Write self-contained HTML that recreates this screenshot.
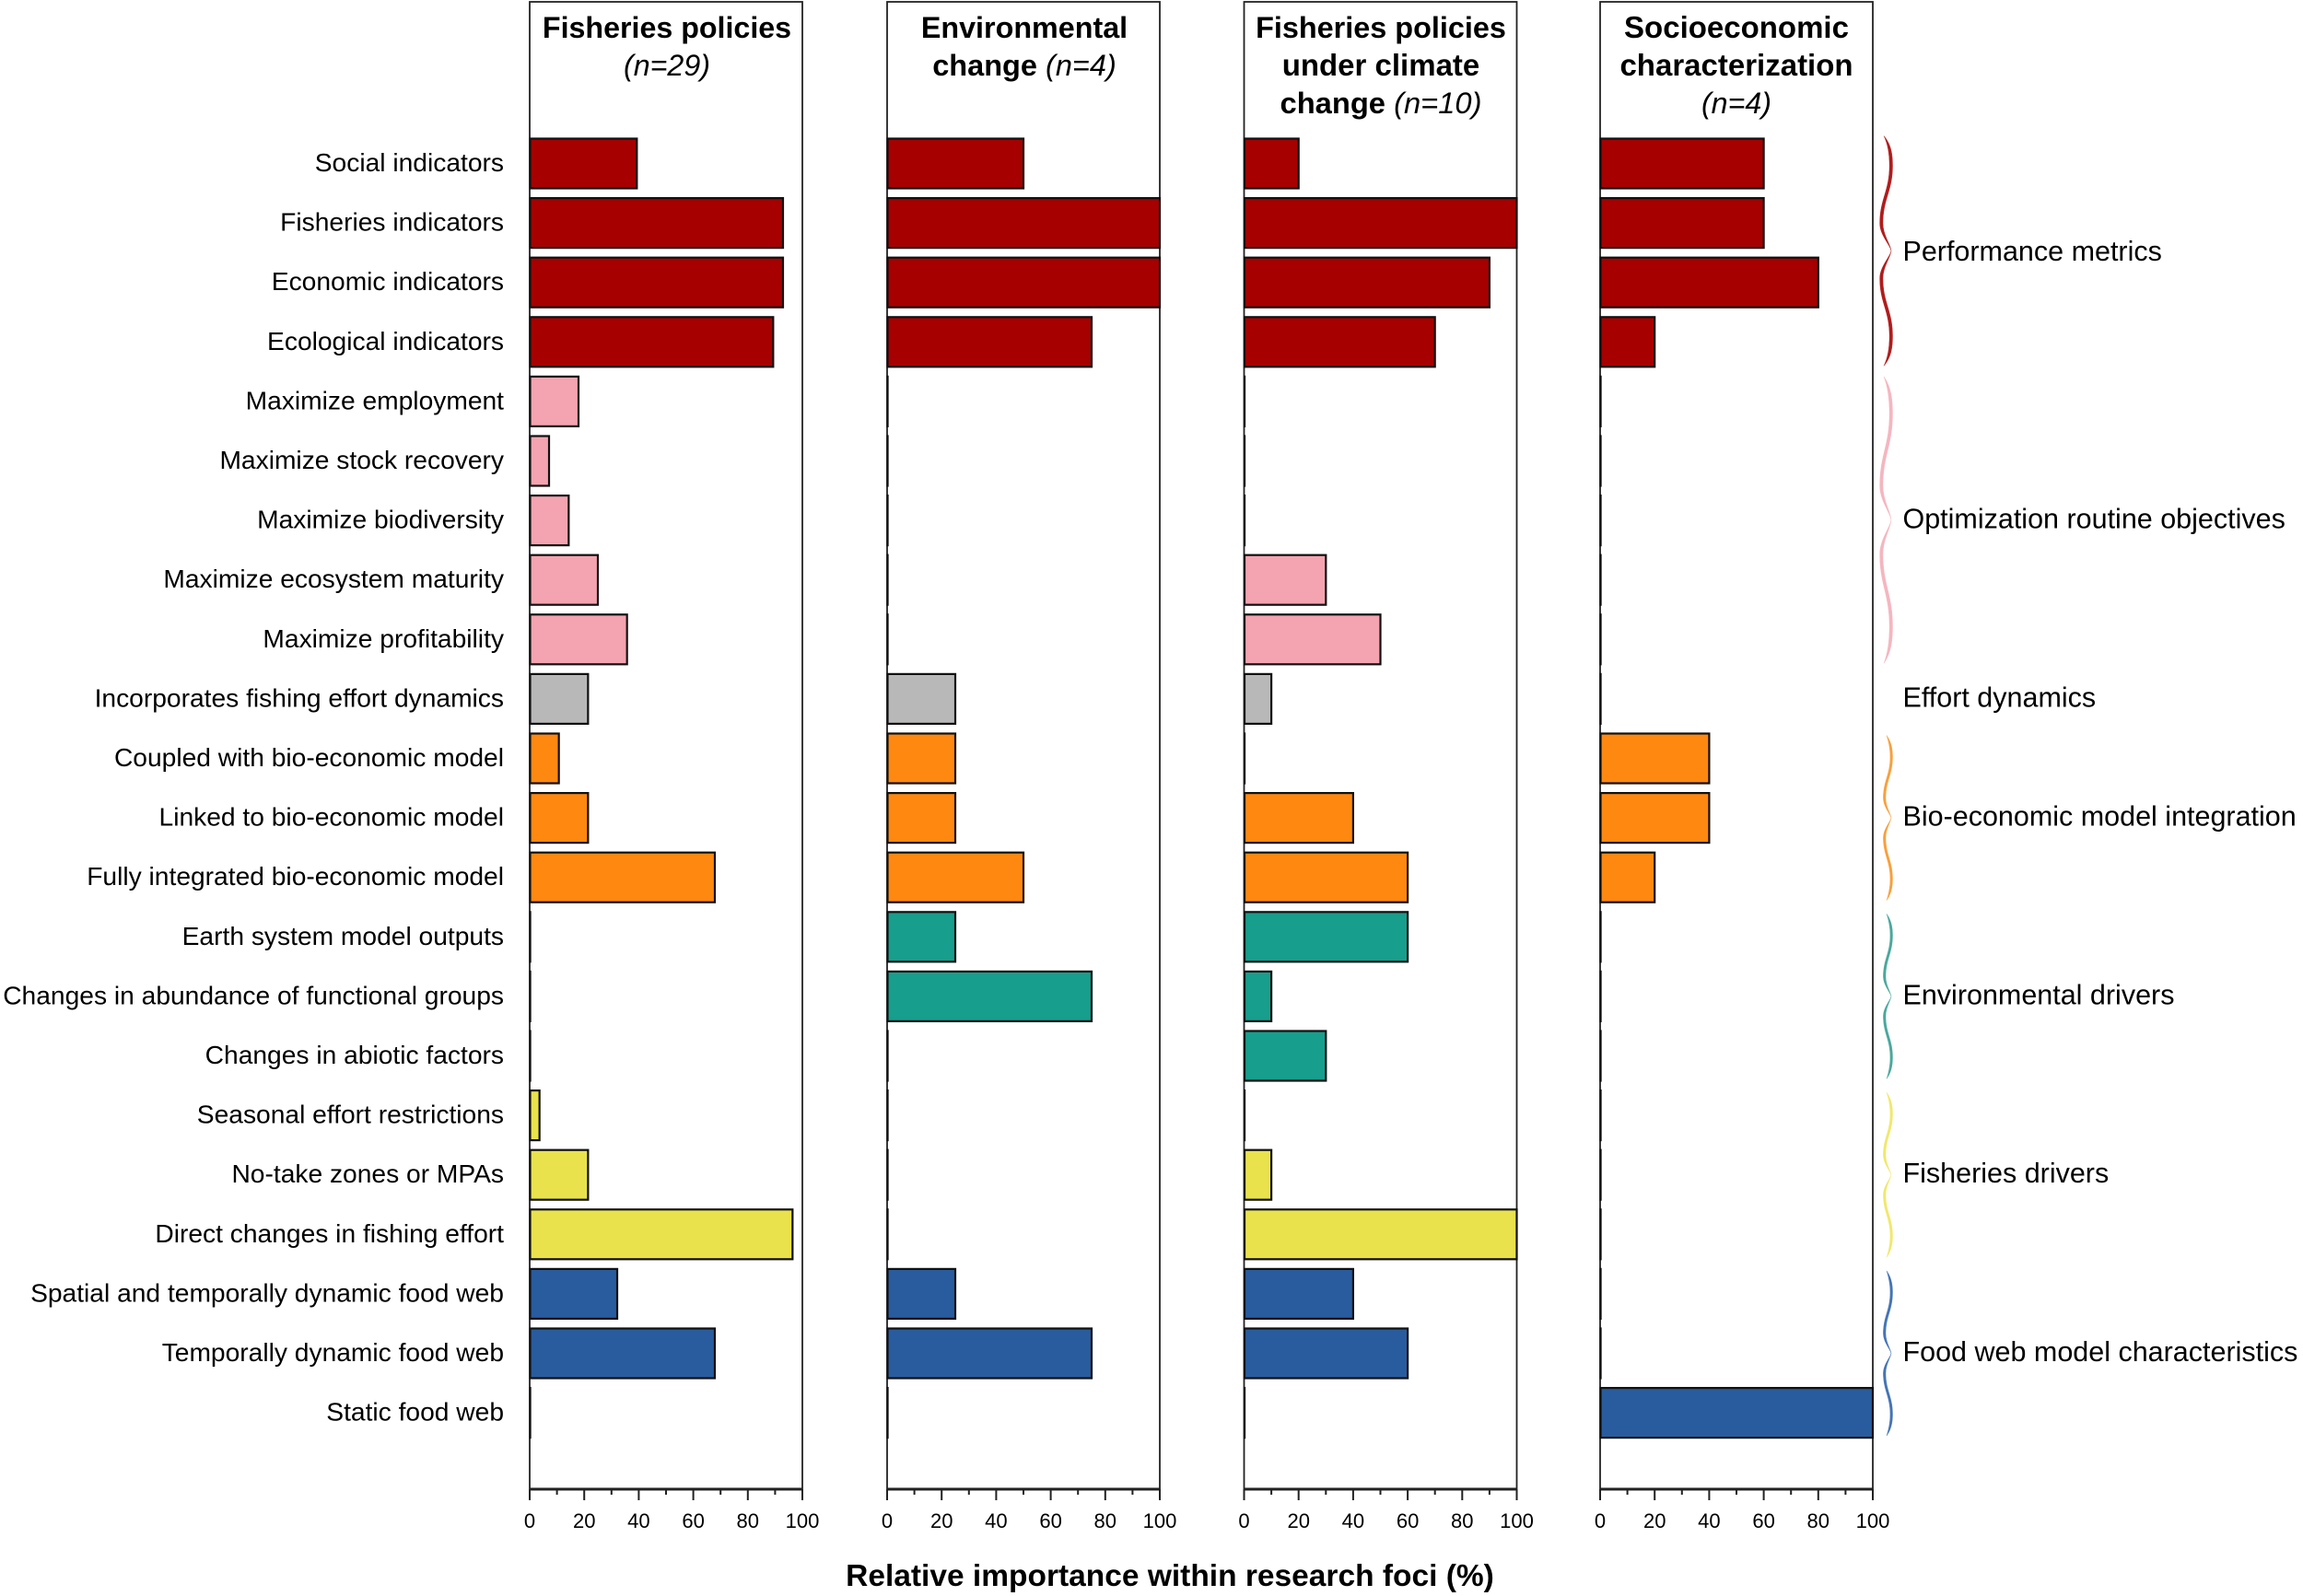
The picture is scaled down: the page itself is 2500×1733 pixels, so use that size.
<!DOCTYPE html>
<html lang="en">
<head>
<meta charset="utf-8">
<title>Relative importance within research foci</title>
<style>
html,body{margin:0;padding:0;background:#fff}
svg{display:block}
text{font-family:"Liberation Sans",sans-serif;fill:#000}
.title{font-size:32.2px;font-weight:bold;text-anchor:middle}
.title tspan.n{font-style:italic;font-weight:normal}
</style>
</head>
<body>
<svg id="chart" xmlns="http://www.w3.org/2000/svg" width="2500" height="1733" viewBox="0 0 2500 1733">
  <rect x="0" y="0" width="2500" height="1733" fill="#fff"/>
  <text class="title" x="724" y="41">Fisheries policies</text>
  <text class="title" x="724" y="82"><tspan class="n">(n=29)</tspan></text>
  <text class="title" x="1112" y="41" style="font-size:32.3px">Environmental</text>
  <text class="title" x="1112" y="82" style="font-size:32.5px">change <tspan class="n">(n=4)</tspan></text>
  <text class="title" x="1499" y="41" style="font-size:32.4px">Fisheries policies</text>
  <text class="title" x="1499" y="82" style="font-size:33px">under climate</text>
  <text class="title" x="1499" y="123" style="font-size:32.7px">change <tspan class="n">(n=10)</tspan></text>
  <text class="title" x="1885" y="41" style="font-size:33px">Socioeconomic</text>
  <text class="title" x="1885" y="82" style="font-size:33px">characterization</text>
  <text class="title" x="1885" y="123"><tspan class="n">(n=4)</tspan></text>
  <text x="1270" y="1722" text-anchor="middle" font-size="33.5" font-weight="bold">Relative importance within research foci (%)</text>
</svg>
<script>
const categories = ["Social indicators","Fisheries indicators","Economic indicators","Ecological indicators","Maximize employment","Maximize stock recovery","Maximize biodiversity","Maximize ecosystem maturity","Maximize profitability","Incorporates fishing effort dynamics","Coupled with bio-economic model","Linked to bio-economic model","Fully integrated bio-economic model","Earth system model outputs","Changes in abundance of functional groups","Changes in abiotic factors","Seasonal effort restrictions","No-take zones or MPAs","Direct changes in fishing effort","Spatial and temporally dynamic food web","Temporally dynamic food web","Static food web"];
const fisheriesPolicies = [39.3,92.9,92.9,89.3,17.9,7.1,14.3,25,35.7,21.4,10.7,21.4,67.9,0,0,0,3.6,21.4,96.4,32.1,67.9,0];
const environmentalChange = [50,100,100,75,0,0,0,0,0,25,25,25,50,25,75,0,0,0,0,25,75,0];
const policiesUnderClimate = [20,100,90,70,0,0,0,30,50,10,0,40,60,60,10,30,0,10,100,40,60,0];
const socioeconomic = [60,60,80,20,0,0,0,0,0,0,40,40,20,0,0,0,0,0,0,0,0,100];
const tickLabels = [0,20,40,60,80,100];
const minorTicks = [10,30,50,70,90];
const groupNames = ["Performance metrics","Optimization routine objectives","Effort dynamics","Bio-economic model integration","Environmental drivers","Fisheries drivers","Food web model characteristics"];
const groupFirstRow = [0,4,9,10,13,16,19];
const groupLastRow = [3,8,9,12,15,18,21];
const groupColors = ["#a60000","#f4a3b0","#b8b8b8","#ff8811","#179e8c","#e9e24c","#285c9e"];
const braceColors = ["#b01c1c","#f4b6c0","","#f8a03c","#4aa89c","#f0e86c","#4474b4"];

const NS = "http://www.w3.org/2000/svg";
const svg = document.getElementById("chart");
const panelLeft = [575, 963, 1350.5, 1737];
const panelSeries = [fisheriesPolicies, environmentalChange, policiesUnderClimate, socioeconomic];
const panelKeys = ["fisheries-policies","environmental-change","policies-under-climate","socioeconomic"];
const PW = 296, TOP = 2, BOTTOM = 1617, ROW0 = 177.5, PITCH = 64.6, BARH = 54, LABEL_R = 547;

function xScale(p, v){ return panelLeft[p] + v / 100 * PW; }
function yScale(i){ return ROW0 + i * PITCH; }
function make(tag, attrs){
  const el = document.createElementNS(NS, tag);
  for (const k in attrs) el.setAttribute(k, attrs[k]);
  svg.appendChild(el);
  return el;
}

panelSeries.forEach(function(series, p){
  const frame = make("rect", {x:panelLeft[p], y:TOP, width:PW, height:BOTTOM-TOP, fill:"none", stroke:"#222", "stroke-width":1.8});
  
  

  series.forEach(function(v, i){
    const g = groupFirstRow.findIndex(function(f, k){ return i >= f && i <= groupLastRow[k]; });
    const bx = xScale(p,0) + 0.5;
    const bar = make("rect", {x:bx, y:yScale(i)-BARH/2, width:Math.max(xScale(p,v)-bx, 0.05), height:BARH, fill:groupColors[g], stroke:"#111", "stroke-width":2.2});
    
    
  });

  const axis = make("line", {x1:panelLeft[p], x2:panelLeft[p]+PW, y1:BOTTOM, y2:BOTTOM, stroke:"#222", "stroke-width":3});
  
  

  tickLabels.forEach(function(t){
    const tick = make("line", {x1:xScale(p,t), x2:xScale(p,t), y1:BOTTOM, y2:BOTTOM+12, stroke:"#222", "stroke-width":2});
    
    
    const label = make("text", {x:xScale(p,t), y:1659, "text-anchor":"middle", "font-size":22});
    label.textContent = t;
    
    
  });
  minorTicks.forEach(function(t){
    const tick = make("line", {x1:xScale(p,t), x2:xScale(p,t), y1:BOTTOM, y2:BOTTOM+6, stroke:"#222", "stroke-width":2});
    
    
  });
});

categories.forEach(function(c, i){
  const t = make("text", {x:LABEL_R, y:yScale(i)+8.5, "text-anchor":"end", "font-size":28.2});
  t.textContent = c;
  
  
});

function bracePath(y1, y2, left, width){
  const m = (y1 + y2) / 2, h = m - y1;
  const bulge = 2054.5, tipX = 2053;
  const inner = left - 1;
  const pts = [
    [left, y1, 0],
    [bulge-2, y1+.07*h, 1], [bulge, y1+.15*h, 1], [bulge, y1+.26*h, 1],
    [bulge, y1+.48*h, 1], [inner, y1+.55*h, 1], [inner, y1+.76*h, 1],
    [inner, y1+.86*h, 1], [tipX-1, y1+.94*h, .3], [tipX, m, 0],
    [tipX-1, m+.06*h, .3], [inner, m+.14*h, 1], [inner, m+.24*h, 1],
    [inner, m+.45*h, 1], [bulge, m+.52*h, 1], [bulge, m+.74*h, 1],
    [bulge, m+.85*h, 1], [bulge-2, m+.93*h, 1], [left, y2, 0]
  ];
  let d = "M" + pts[0][0] + "," + pts[0][1];
  for (let i = 1; i < pts.length; i += 3) {
    d += " C" + pts[i][0] + "," + pts[i][1] + " " + pts[i+1][0] + "," + pts[i+1][1] + " " + pts[i+2][0] + "," + pts[i+2][1];
  }
  const rev = pts.slice().reverse().map(function(q){ return [q[0] - width * q[2], q[1]]; });
  for (let i = 1; i < rev.length; i += 3) {
    d += " C" + rev[i][0] + "," + rev[i][1] + " " + rev[i+1][0] + "," + rev[i+1][1] + " " + rev[i+2][0] + "," + rev[i+2][1];
  }
  return d + " Z";
}

groupNames.forEach(function(name, g){
  const y1 = yScale(groupFirstRow[g]), y2 = yScale(groupLastRow[g]);
  if (braceColors[g]) {
    const padTop = g === 0 ? 30 : (g === 1 ? 27 : 25);
    const padBottom = g < 2 ? 26 : 25;
    const brace = make("path", {d:bracePath(y1-padTop, y2+padBottom, g < 2 ? 2045 : 2048, g < 2 ? 3.4 : 2.6), fill:braceColors[g], stroke:braceColors[g], "stroke-width":0.4});
    
    
  }
  const t = make("text", {x:2065.5, y:(y1+y2)/2+8.5, "font-size":30.5});
  t.textContent = name;
  
  
});
</script>
</body>
</html>
